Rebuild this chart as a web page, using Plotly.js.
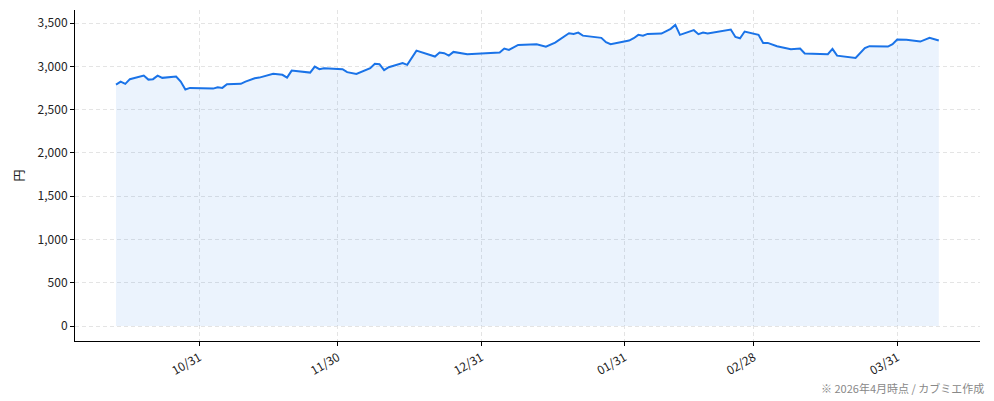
<!DOCTYPE html>
<html>
<head>
<meta charset="utf-8">
<script src="https://cdn.plot.ly/plotly-3.0.1.min.js"></script>
<style>html,body{margin:0;padding:0;background:#fff;}#chart{width:994px;height:401px;}</style>
</head>
<body>
<div id="chart"></div>
<script>
const dates = [
  "2025-10-13","2025-10-14","2025-10-15","2025-10-16","2025-10-19","2025-10-20","2025-10-21","2025-10-22","2025-10-23","2025-10-26",
  "2025-10-27","2025-10-28","2025-10-29","2025-11-03","2025-11-04","2025-11-05","2025-11-06","2025-11-09","2025-11-10","2025-11-12",
  "2025-11-13","2025-11-16","2025-11-18","2025-11-19","2025-11-20","2025-11-24","2025-11-25","2025-11-26","2025-11-27","2025-12-01",
  "2025-12-02","2025-12-04","2025-12-07","2025-12-08","2025-12-09","2025-12-10","2025-12-11","2025-12-14","2025-12-15","2025-12-17",
  "2025-12-21","2025-12-22","2025-12-23","2025-12-24","2025-12-25","2025-12-28","2026-01-04","2026-01-05","2026-01-06","2026-01-08",
  "2026-01-12","2026-01-14","2026-01-16","2026-01-19","2026-01-20","2026-01-21","2026-01-22","2026-01-26","2026-01-27","2026-01-28",
  "2026-02-01","2026-02-02","2026-02-03","2026-02-04","2026-02-05","2026-02-08","2026-02-10","2026-02-11","2026-02-12","2026-02-15",
  "2026-02-16","2026-02-17","2026-02-18","2026-02-21","2026-02-23","2026-02-24","2026-02-25","2026-02-26","2026-03-01","2026-03-02",
  "2026-03-03","2026-03-05","2026-03-08","2026-03-10","2026-03-11","2026-03-16","2026-03-17","2026-03-18","2026-03-22","2026-03-24",
  "2026-03-25","2026-03-29","2026-03-30","2026-03-31","2026-04-02","2026-04-05","2026-04-07","2026-04-09"
];
const prices = [
  2790,2825,2799,2853,2894,2848,2853,2894,2868,2883,
  2825,2733,2752,2744,2760,2752,2795,2799,2825,2864,
  2871,2914,2903,2871,2952,2929,2998,2968,2980,2968,
  2934,2914,2980,3030,3026,2957,2991,3038,3018,3183,
  3114,3160,3153,3125,3168,3142,3160,3206,3191,3249,
  3257,3229,3276,3384,3376,3391,3356,3330,3280,3257,
  3299,3326,3365,3356,3376,3380,3434,3480,3365,3419,
  3373,3391,3380,3403,3426,3341,3326,3403,3365,3272,
  3272,3233,3199,3206,3149,3142,3203,3125,3099,3211,
  3234,3229,3257,3310,3307,3287,3330,3299
];
const tickDates = ["2025-10-31","2025-11-30","2025-12-31","2026-01-31","2026-02-28","2026-03-31"];
const tickLabels = ["10/31","11/30","12/31","01/31","02/28","03/31"];
const yTicks = [0,500,1000,1500,2000,2500,3000,3500];
const yLabels = ["0","500","1,000","1,500","2,000","2,500","3,000","3,500"];

const FONT = "'Noto Sans CJK JP', 'Noto Sans', sans-serif";

const trace = {
  x: dates, y: prices, type: "scatter", mode: "lines",
  line: {color: "#1a73e8", width: 2},
  fill: "tozeroy", fillcolor: "rgba(26,115,232,0.085)",
  hoverinfo: "x+y"
};

const gridStyle = {showgrid: true, gridcolor: "#e4e4e4", griddash: "4px,3px", gridwidth: 1};

const layout = {
  width: 994, height: 401,
  margin: {l: 75, r: 14, t: 10, b: 60},
  paper_bgcolor: "#fff", plot_bgcolor: "#fff",
  showlegend: false,
  font: {family: FONT, size: 12, color: "#222"},
  xaxis: Object.assign({
    type: "date",
    range: ["2025-10-04 03:00", "2026-04-17 22:00"],
    tickvals: tickDates, ticktext: tickLabels, tickangle: -30,
    showline: true, linecolor: "#000", linewidth: 1,
    ticks: "outside", ticklen: 4, tickcolor: "#000",
    zeroline: false, mirror: false,
    tickfont: {family: FONT, size: 12, color: "#222"}
  }, gridStyle),
  yaxis: Object.assign({
    range: [-172, 3652],
    tickvals: yTicks, ticktext: yLabels,
    showline: true, linecolor: "#000", linewidth: 1,
    ticks: "outside", ticklen: 4, tickcolor: "#000",
    zeroline: false, mirror: false,
    tickfont: {family: FONT, size: 12, color: "#222"},
    title: {text: "円", font: {family: FONT, size: 12, color: "#222"}, standoff: 10}
  }, gridStyle),
  annotations: [{
    text: "※ 2026年4月時点 / カブミエ作成",
    xref: "paper", yref: "paper", x: 1.007, y: -0.112,
    xanchor: "right", yanchor: "top", showarrow: false,
    font: {family: FONT, size: 11, color: "#888"}
  }]
};

Plotly.newPlot("chart", [trace], layout, {displayModeBar: false, staticPlot: true});
</script>
</body>
</html>
